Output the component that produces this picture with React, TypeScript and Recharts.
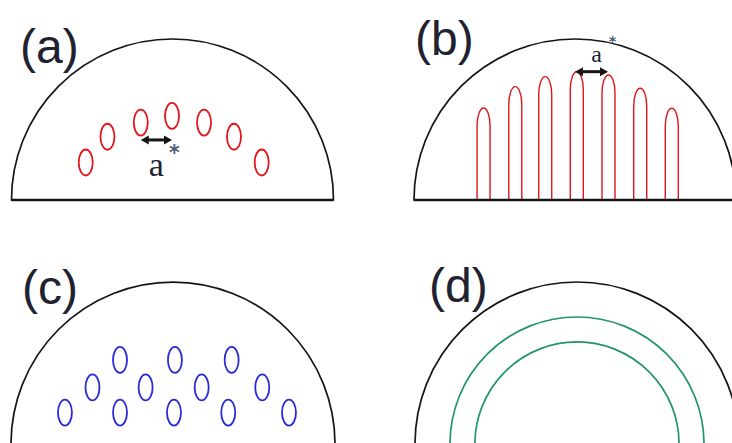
import {
  Bar,
  Cell,
  ComposedChart,
  Pie,
  PieChart,
  ReferenceLine,
  Scatter,
  XAxis,
  YAxis,
} from 'recharts'

// positions are in units of the dome radius: x from -1..1, y from 0..1
const pairX = [-0.539, -0.404, -0.197, -0.003, 0.196, 0.382, 0.554]
const pairY = [0.233, 0.393, 0.481, 0.522, 0.481, 0.393, 0.233]

const archX = [-0.565, -0.368, -0.182, 0.014, 0.211, 0.408, 0.604]
const archH = [0.571, 0.704, 0.766, 0.797, 0.776, 0.694, 0.57]

const latticeX = [-0.327, 0.012, 0.362, -0.497, -0.169, 0.177, 0.551, -0.667, -0.327, 0.006, 0.341, 0.716]
const latticeY = [0.519, 0.519, 0.519, 0.349, 0.349, 0.349, 0.349, 0.194, 0.194, 0.194, 0.194, 0.194]

const ringRadii = [0.63, 0.784]

const panelLabels = ['(a)', '(b)', '(c)', '(d)']

// layout of each dome on the page (px)
const W = 760
const H = 460
const PANELS = [
  { cx: 172.5, base: 200, r: 161, lx: 20, ly: 63 },
  { cx: 575, base: 200, r: 161, lx: 415, ly: 55 },
  { cx: 173, base: 444, r: 162, lx: 22, ly: 304 },
  { cx: 577, base: 444, r: 162, lx: 429, ly: 302 },
]

const RED = '#e0161a'
const BLUE = '#2b2bd6'
const GREEN = '#23946a'
const INK = '#151515'

const pairs = pairX.map((x, i) => ({ x, y: pairY[i] }))
const arches = archX.map((x, i) => ({ x, h: archH[i] }))
const lattice = latticeX.map((x, i) => ({ x, y: latticeY[i] }))

const marginFor = (p: typeof PANELS[number]) => ({
  left: p.cx - p.r,
  right: W - (p.cx + p.r),
  top: p.base - p.r,
  bottom: H - p.base,
})

const oval = (color: string) => (props: any) => (
  <ellipse cx={props.cx} cy={props.cy} rx={7} ry={13} fill="none" stroke={color} strokeWidth={1.8} />
)

const Arch = (props: any) => {
  const { x, y, width, height } = props
  const c = x + width / 2
  const hw = 6.5
  const ry = 18
  const base = y + height
  return (
    <path
      d={`M${c - hw},${base} L${c - hw},${y + ry} A${hw},${ry} 0 0 1 ${c + hw},${y + ry} L${c + hw},${base}`}
      fill="none"
      stroke={RED}
      strokeWidth={1.4}
    />
  )
}

const arrow = (lab: { dx: number; dy: number; size: number; sdx: number; sdy: number }) => (props: any) => {
  const { x1, y1, x2 } = props
  const y = y1
  const hl = 8
  const hh = 4.5
  const mid = (x1 + x2) / 2
  return (
    <g>
      <line x1={x1 + hl - 1} y1={y} x2={x2 - hl + 1} y2={y} stroke={INK} strokeWidth={3} />
      <polygon points={`${x1},${y} ${x1 + hl},${y - hh} ${x1 + hl},${y + hh}`} fill={INK} />
      <polygon points={`${x2},${y} ${x2 - hl},${y - hh} ${x2 - hl},${y + hh}`} fill={INK} />
      <text
        x={mid + lab.dx}
        y={y + lab.dy}
        textAnchor="middle"
        fontFamily="'Liberation Serif', serif"
        fontSize={lab.size}
        fill="#1d2436"
      >
        a
      </text>
      <text
        x={mid + lab.sdx}
        y={y + lab.sdy}
        textAnchor="middle"
        fontFamily="'DejaVu Sans', sans-serif"
        fontWeight="bold"
        fontSize={lab.size * 0.6}
        fill="#4a5a78"
      >
        *
      </text>
    </g>
  )
}

const axes = (withY: boolean) => [
  <XAxis key="x" type="number" dataKey="x" domain={[-1, 1]} hide allowDataOverflow />,
  <YAxis key="y" type="number" dataKey={withY ? 'y' : undefined} domain={[0, 1]} hide allowDataOverflow />,
]

const layer: React.CSSProperties = { position: 'absolute', left: 0, top: 0 }

export default function App() {
  const [pa, pb, pc, pd] = PANELS
  return (
    <div
      style={{
        position: 'fixed',
        left: 0,
        top: 0,
        width: 732,
        height: 443,
        overflow: 'hidden',
        background: '#fff',
      }}
    >
      {/* domes and rings */}
      <div style={layer}>
        <PieChart width={W} height={H} margin={{ top: 0, right: 0, bottom: 0, left: 0 }}>
          {PANELS.map((p, i) => (
            <Pie
              key={i}
              data={[{ name: 'dome', value: 1 }]}
              dataKey="value"
              cx={p.cx}
              cy={p.base}
              startAngle={180}
              endAngle={0}
              innerRadius={0}
              outerRadius={p.r}
              isAnimationActive={false}
            >
              <Cell fill="none" stroke={INK} strokeWidth={1.7} />
            </Pie>
          ))}
          <Pie
            data={[{ name: 'rings', value: 1 }]}
            dataKey="value"
            cx={pd.cx}
            cy={pd.base}
            startAngle={180}
            endAngle={0}
            innerRadius={ringRadii[0] * pd.r}
            outerRadius={ringRadii[1] * pd.r}
            isAnimationActive={false}
          >
            <Cell fill="none" stroke={GREEN} strokeWidth={1.7} />
          </Pie>
        </PieChart>
      </div>

      {/* (a) dimer pairs */}
      <div style={layer}>
        <ComposedChart width={W} height={H} margin={marginFor(pa)}>
          {axes(true)}
          <ReferenceLine y={0} stroke={INK} strokeWidth={2.6} />
          <Scatter data={pairs} shape={oval(RED)} isAnimationActive={false} />
          <ReferenceLine
            segment={[
              { x: pairX[2], y: 0.373 },
              { x: pairX[3], y: 0.373 },
            ]}
            shape={arrow({ dx: 0, dy: 36, size: 34, sdx: 18, sdy: 20 })}
          />
        </ComposedChart>
      </div>

      {/* (b) stripes */}
      <div style={layer}>
        <ComposedChart width={W} height={H} data={arches} margin={marginFor(pb)}>
          {axes(false)}
          <Bar dataKey="h" barSize={13} shape={Arch} isAnimationActive={false} />
          <ReferenceLine y={0} stroke={INK} strokeWidth={2.6} />
          <ReferenceLine
            segment={[
              { x: 0.0, y: 0.797 },
              { x: 0.205, y: 0.797 },
            ]}
            shape={arrow({ dx: 5, dy: -10, size: 24, sdx: 21, sdy: -26 })}
          />
        </ComposedChart>
      </div>

      {/* (c) lattice */}
      <div style={layer}>
        <ComposedChart width={W} height={H} margin={marginFor(pc)}>
          {axes(true)}
          <Scatter data={lattice} shape={oval(BLUE)} isAnimationActive={false} />
        </ComposedChart>
      </div>

      {/* panel letters */}
      <svg width={732} height={443} style={layer}>
        {PANELS.map((p, i) => (
          <text
            key={i}
            x={p.lx}
            y={p.ly}
            fontFamily="'Liberation Sans', Arial, sans-serif"
            fontSize={48}
            fill="#1f2230"
          >
            {panelLabels[i]}
          </text>
        ))}
      </svg>
    </div>
  )
}
